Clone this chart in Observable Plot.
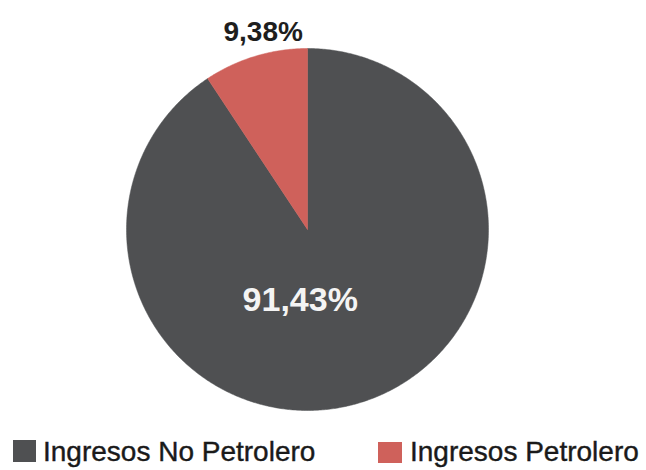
<!DOCTYPE html>
<html>
<head>
<meta charset="utf-8">
<script src="https://cdn.jsdelivr.net/npm/d3@7"></script>
<script src="https://cdn.jsdelivr.net/npm/@observablehq/plot@0.6"></script>
<style>
  html, body { margin: 0; padding: 0; background: #fff; }
  #wrap { position: relative; width: 646px; height: 470px; font-family: "Liberation Sans", Arial, sans-serif; }
  #chart svg { display: block; }
  .leg { position: absolute; font-size: 28px; line-height: 28px; color: #1a1a1a; white-space: nowrap; -webkit-text-stroke: 0.4px #1a1a1a; }
  .sw { position: absolute; }
</style>
</head>
<body>
<div id="wrap">
  <div id="chart"></div>
</div>
<script>
// ---- data ----
const categories = ["Ingresos No Petrolero", "Ingresos Petrolero"];
const values = [91.43, 9.38];
const valueLabels = ["91,43%", "9,38%"];
const colors = ["#4f5052", "#cf615b"];

// ---- build slices from the data ----
const rows = categories.map((c, i) => ({name: c, value: values[i], label: valueLabels[i]}));
const arcs = d3.pie().sort(null).value(d => d.value).startAngle(0).endAngle(2 * Math.PI)(rows);

const slicePts = [];
arcs.forEach(a => {
  const name = a.data.name;
  slicePts.push({name, x: 0, y: 0});
  const n = Math.max(2, Math.ceil((a.endAngle - a.startAngle) / (Math.PI / 360)));
  for (let k = 0; k <= n; k++) {
    const t = a.startAngle + (a.endAngle - a.startAngle) * k / n;
    slicePts.push({name, x: Math.sin(t), y: Math.cos(t)});
  }
  slicePts.push({name, x: 0, y: 0});
});

// label anchors derived from slice angles
const big = arcs[0], small = arcs[1];
const smallMid = (small.startAngle + small.endAngle) / 2;
const outerLabels = [{text: small.data.label, x: Math.sin(smallMid) * 0.85, y: 1.09}];
const innerLabels = [{text: big.data.label, x: Math.sin(Math.PI) * 0.39 - 0.04, y: Math.cos(Math.PI) * 0.39}];

const plot = Plot.plot({
  width: 646,
  height: 425,
  marginLeft: 126,
  marginRight: 158,
  marginTop: 48,
  marginBottom: 15,
  x: {domain: [-1, 1], axis: null},
  y: {domain: [-1, 1], axis: null},
  color: {domain: categories, range: colors},
  style: {fontFamily: "'Liberation Sans', Arial, sans-serif", background: "#fff", overflow: "visible"},
  marks: [
    Plot.line(slicePts, {x: "x", y: "y", z: "name", fill: "name", stroke: "name", strokeWidth: 0.5, curve: "linear"}),
    Plot.text(outerLabels, {x: "x", y: "y", text: "text", fill: "#1e1e1e", fontSize: 28, fontWeight: "bold", letterSpacing: "-0.5px"}),
    Plot.text(innerLabels, {x: "x", y: "y", text: "text", fill: "#f4f4f4", fontSize: 34, fontWeight: "bold", letterSpacing: "-0.5px"})
  ]
});
document.getElementById("chart").appendChild(plot);

// ---- legend ----
const wrap = document.getElementById("wrap");
const legendLayout = [
  {sw: [13, 440, 23, 22], text: [43, 438]},
  {sw: [378, 442, 24, 21], text: [410, 438]}
];
categories.forEach((c, i) => {
  const L = legendLayout[i];
  const s = document.createElement("div");
  s.className = "sw";
  s.style.left = L.sw[0] + "px"; s.style.top = L.sw[1] + "px";
  s.style.width = L.sw[2] + "px"; s.style.height = L.sw[3] + "px";
  s.style.background = colors[i];
  wrap.appendChild(s);
  const t = document.createElement("div");
  t.className = "leg";
  t.style.left = L.text[0] + "px"; t.style.top = L.text[1] + "px";
  t.textContent = c;
  wrap.appendChild(t);
});
</script>
</body>
</html>
